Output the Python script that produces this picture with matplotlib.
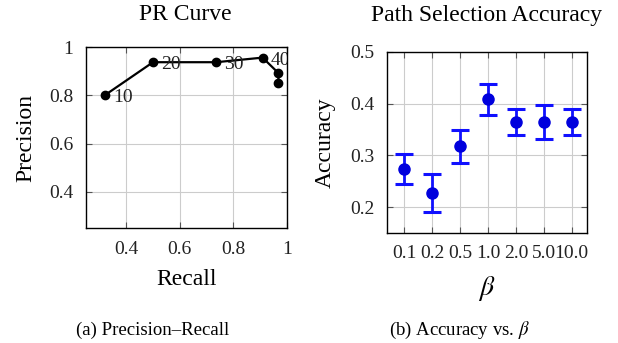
import matplotlib.pyplot as plt
import numpy as np

plt.rcParams['font.family'] = ['Liberation Serif', 'DejaVu Serif']
plt.rcParams['mathtext.fontset'] = 'stix'

#-------------------------------------
# PR curve data
recall = [0.32, 0.50, 0.736, 0.909, 0.968, 0.968]
precision = [0.80, 0.937, 0.937, 0.956, 0.892, 0.85]
thresholds = ['10', '20', '30', '40']  # only the first four show up in the figure

# accuracy vs beta data
betas = ['0.1', '0.2', '0.5', '1.0', '2.0', '5.0', '10.0']
acc_mean = [0.273, 0.228, 0.318, 0.410, 0.364, 0.364, 0.364]
acc_low = [0.244, 0.190, 0.286, 0.379, 0.340, 0.331, 0.340]
acc_high = [0.302, 0.265, 0.350, 0.438, 0.389, 0.398, 0.389]
#-------------------------------------

fig = plt.figure(figsize=(6.18, 3.43), dpi=100)
ax1 = fig.add_axes([86/618, 1-228/343, 201/618, 181/343])
ax2 = fig.add_axes([387/618, 1-233/343, 200/618, 181/343])

for ax in (ax1, ax2):
    ax.grid(True, color='#cccccc', linewidth=0.8)
    ax.set_axisbelow(True)
    ax.tick_params(direction='in', top=True, right=True, length=4,
                   color='#555555', labelsize=14, labelcolor='#222222')
    ax.tick_params(axis='y', pad=9)
    for sp in ax.spines.values():
        sp.set_linewidth(1.0)

# left: PR curve
ax1.plot(recall, precision, color='k', linewidth=1.6, marker='o', markersize=6)
for r, p, t in zip(recall, precision, thresholds):
    ax1.text(r + 0.03, p - 0.01, t, va='center', ha='left', fontsize=14,
             color='#222222', clip_on=True)
ax1.set_xlim(0.25, 1.0)
ax1.set_ylim(0.25, 1.0)
ax1.set_xticks([0.4, 0.6, 0.8, 1.0])
ax1.set_xticklabels(['0.4', '0.6', '0.8', '1'])
ax1.set_yticks([0.4, 0.6, 0.8, 1.0])
ax1.set_yticklabels(['0.4', '0.6', '0.8', '1'])
ax1.tick_params(axis='x', pad=9)
ax1.set_xlabel('Recall', fontsize=17, labelpad=8)
ax1.set_ylabel('Precision', fontsize=17)
ax1.yaxis.set_label_coords(-0.245, 0.5)

# right: accuracy vs beta
xpos = np.arange(len(betas))
mean = np.array(acc_mean)
yerr = [mean - np.array(acc_low), np.array(acc_high) - mean]
ax2.errorbar(xpos, mean, yerr=yerr, fmt='o', color='#0000dd', ecolor='#1010ff',
             markersize=8, elinewidth=2, capsize=6.5, capthick=2.2)
ax2.set_xlim(-0.62, 6.55)
ax2.set_ylim(0.15, 0.5)
ax2.set_xticks(xpos)
ax2.set_xticklabels(betas)
ax2.set_yticks([0.2, 0.3, 0.4, 0.5])
ax2.tick_params(axis='x', pad=9)
ax2.set_xlabel(r'$\beta$', fontsize=20, labelpad=8)
ax2.set_ylabel('Accuracy', fontsize=17)
ax2.yaxis.set_label_coords(-0.255, 0.5)

# titles and captions
fig.text(185.5/618, 1-15/343, 'PR Curve', ha='center', va='center', fontsize=17)
fig.text(486.5/618, 1-15/343, 'Path Selection Accuracy', ha='center', va='center', fontsize=17)
fig.text(153/618, 1-330/343, '(a) Precision–Recall', ha='center', va='center', fontsize=13.5)
fig.text(459/618, 1-330/343, r'(b) Accuracy vs. $\beta$', ha='center', va='center', fontsize=13.5)

plt.savefig('out.png', dpi=100)
